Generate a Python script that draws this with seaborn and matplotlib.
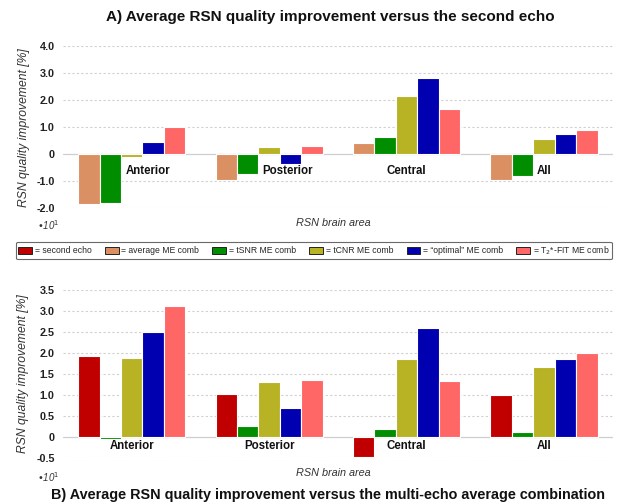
import matplotlib
matplotlib.use("Agg")
import matplotlib.pyplot as plt
from matplotlib.patches import Patch
import seaborn as sns
import pandas as pd

sns.set_theme(style="white")
plt.rcParams["font.family"] = ["Liberation Sans", "DejaVu Sans"]

# Brain areas and combination methods
areas = ["Anterior", "Posterior", "Central", "All"]
methods = ["second echo", "average ME comb", "tSNR ME comb", "tCNR ME comb",
           "\u201coptimal\u201d ME comb", "T$_2$*-FIT ME comb"]
colors = ["#C00000", "#DA9062", "#008E00", "#B8B225", "#0000B0", "#FF6666"]

# A) improvement [%] versus the second echo
avg_vs_echo2 = [-1.83, -0.97, 0.40, -0.96]
tsnr_vs_echo2 = [-1.79, -0.72, 0.62, -0.79]
tcnr_vs_echo2 = [-0.12, 0.25, 2.14, 0.58]
optimal_vs_echo2 = [0.46, -0.35, 2.80, 0.75]
t2fit_vs_echo2 = [1.00, 0.30, 1.67, 0.91]

# B) improvement [%] versus the multi-echo average combination
echo2_vs_avg = [1.93, 1.03, -0.48, 1.00]
tsnr_vs_avg = [-0.04, 0.26, 0.20, 0.12]
tcnr_vs_avg = [1.88, 1.31, 1.87, 1.66]
optimal_vs_avg = [2.50, 0.69, 2.60, 1.85]
t2fit_vs_avg = [3.12, 1.35, 1.33, 2.00]

yticks_a = [-2, -1, 0, 1, 2, 3, 4]
yticklabels_a = ["-2.0", "-1.0", "0", "1.0", "2.0", "3.0", "4.0"]
yticks_b = [-0.5, 0, 0.5, 1.0, 1.5, 2.0, 2.5, 3.0, 3.5]
yticklabels_b = ["-0.5", "0", "0.5", "1.0", "1.5", "2.0", "2.5", "3.0", "3.5"]

palette = dict(zip(methods, colors))


def long_frame(series):
    rows = []
    for name, vals in series:
        for area, v in zip(areas, vals):
            rows.append({"area": area, "method": name, "value": v})
    return pd.DataFrame(rows)


df_a = long_frame([(methods[1], avg_vs_echo2), (methods[2], tsnr_vs_echo2),
                   (methods[3], tcnr_vs_echo2), (methods[4], optimal_vs_echo2),
                   (methods[5], t2fit_vs_echo2)])
df_b = long_frame([(methods[0], echo2_vs_avg), (methods[2], tsnr_vs_avg),
                   (methods[3], tcnr_vs_avg), (methods[4], optimal_vs_avg),
                   (methods[5], t2fit_vs_avg)])

fig = plt.figure(figsize=(6.24, 5.04), dpi=100)
ax_a = fig.add_axes([0.101, 0.5867, 0.881, 0.322])
ax_b = fig.add_axes([0.101, 0.0907, 0.881, 0.334])


def draw_panel(ax, df, hue_order, yticks, yticklabels, label_dy, label_dx):
    sns.barplot(data=df, x="area", y="value", hue="method", hue_order=hue_order,
                palette=palette, order=areas, width=0.78, saturation=1,
                edgecolor="white", linewidth=0.8, legend=False, ax=ax,
                errorbar=None, zorder=3)
    ax.set_xlim(-0.5, 3.5)
    ax.set_ylim(yticks[0], yticks[-1])
    ax.set_yticks(yticks)
    ax.set_yticklabels(yticklabels, fontsize=7.8, fontweight="bold", color="#222222")
    ax.set_xticks([])
    ax.set_xlabel("")
    ax.set_ylabel("RSN quality improvement [%]", fontsize=8.7, style="italic",
                  color="#333333")
    ax.tick_params(axis="y", length=0, pad=6)
    for s in ax.spines.values():
        s.set_visible(False)
    for t in yticks:
        if t == 0:
            ax.axhline(0, color="#cfcfcf", lw=0.9, zorder=1)
        else:
            ax.axhline(t, color="#d0d0d0", lw=0.8, ls=(0, (2, 2)), zorder=1)
    for i, area in enumerate(areas):
        ax.annotate(area, xy=(i, 0), xytext=(label_dx[i], -label_dy),
                    textcoords="offset points", ha="center", va="center",
                    fontsize=8.3, fontweight="bold", color="#111111", zorder=4)


draw_panel(ax_a, df_a, methods[1:], yticks_a, yticklabels_a, 12.0,
           [11.5, 13, 0, 0])
draw_panel(ax_b, df_b, [methods[0]] + methods[2:], yticks_b, yticklabels_b, 6.5,
           [0, 0, 0, 0])
ax_a.yaxis.set_label_coords(-0.060, 0.5)
ax_b.yaxis.set_label_coords(-0.062, 0.5)

fig.text(0.530, 0.966, "A) Average RSN quality improvement versus the second echo",
         ha="center", va="center", fontsize=11, fontweight="bold", color="#111111")
fig.text(0.526, 0.018,
         "B) Average RSN quality improvement versus the multi-echo average combination",
         ha="center", va="center", fontsize=10.4, fontweight="bold", color="#111111")

for y_lab, y_mult in [(1 - 222.5 / 504, 1 - 225 / 504), (1 - 473 / 504, 1 - 477 / 504)]:
    fig.text(0.534, y_lab, "RSN brain area", ha="center", va="center",
             fontsize=7.8, style="italic", color="#333333")
    fig.text(0.060, y_mult, "\u202210$^{1}$", ha="left", va="center",
             fontsize=7, style="italic", color="#333333")

handles = [Patch(facecolor=c, edgecolor="#222222", linewidth=0.7) for c in colors]
labels = ["= " + m for m in methods]
leg = fig.legend(handles, labels, loc="center", bbox_to_anchor=(0.503, 0.503),
                 ncol=6, fontsize=6.2, frameon=True, fancybox=True,
                 handlelength=1.6, handleheight=0.9, handletextpad=0.3,
                 columnspacing=1.55, borderpad=0.3)
leg.get_frame().set_edgecolor("#444444")
leg.get_frame().set_linewidth(0.8)

fig.savefig("out.png", dpi=100)
